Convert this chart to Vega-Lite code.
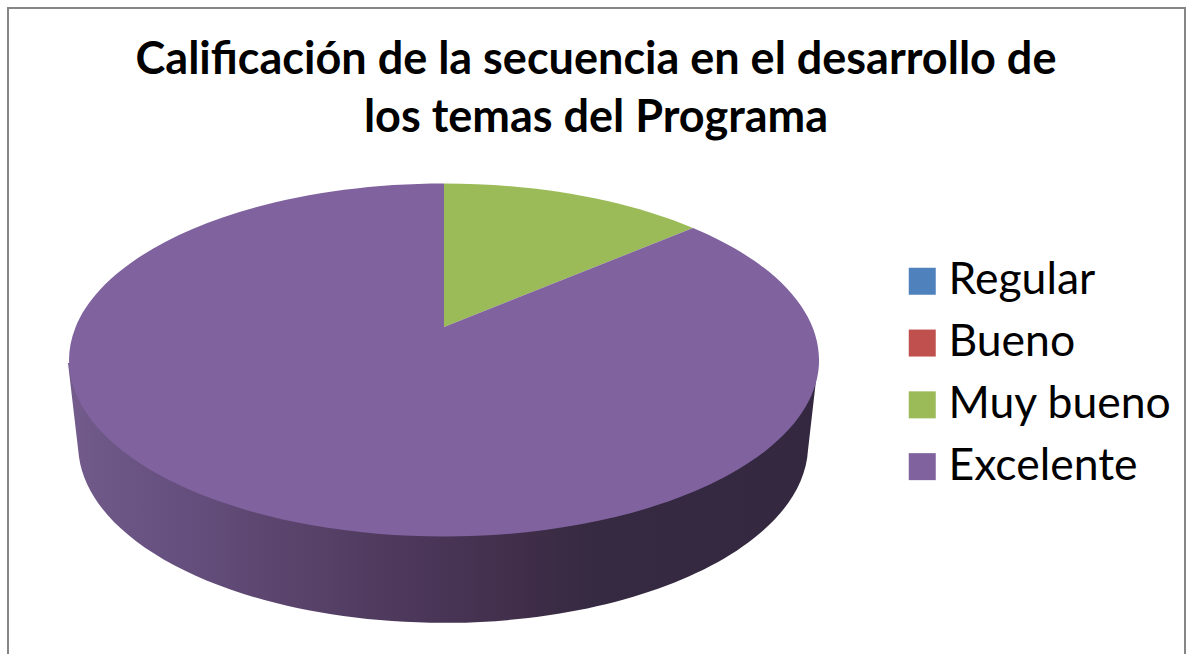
{
  "$schema": "https://vega.github.io/schema/vega-lite/v6.json",
  "width": 1186,
  "height": 654,
  "autosize": "none",
  "padding": 0,
  "background": "white",
  "title": {
    "text": ["Calificación de la secuencia en el desarrollo de", "los temas del Programa"],
    "font": "Lato",
    "fontWeight": "bold",
    "fontSize": 45,
    "lineHeight": 58,
    "color": "#000000",
    "anchor": "middle",
    "frame": "group",
    "dx": 3,
    "baseline": "alphabetic",
    "offset": -177
  },
  "config": {"view": {"stroke": null}},
  "data": {
    "values": [
      {"categoria": "Regular", "valor": 0},
      {"categoria": "Bueno", "valor": 0},
      {"categoria": "Muy bueno", "valor": 12.5},
      {"categoria": "Excelente", "valor": 87.5}
    ]
  },
  "layer": [
    {
      "transform": [{"filter": "datum.categoria === 'Excelente'"}],
      "mark": {
        "type": "point",
        "shape": "M-585,328 L-585,-319 L592,-319 L592,328",
        "size": 4,
        "filled": false,
        "stroke": "#868686",
        "strokeWidth": 2,
        "opacity": 1
      },
      "encoding": {}
    },
    {
      "transform": [{"filter": "datum.categoria === 'Excelente'"}],
      "mark": {
        "type": "point",
        "shape": "M-525,36 L-514,130 A365,178 0 0 0 215,123 L225,36 Z",
        "size": 4,
        "filled": true,
        "strokeWidth": 0,
        "opacity": 1,
        "fill": {
          "gradient": "linear",
          "x1": 0, "y1": 0, "x2": 1, "y2": 0,
          "stops": [
            {"offset": 0, "color": "#755c8e"},
            {"offset": 0.04, "color": "#6d5887"},
            {"offset": 0.14, "color": "#66507f"},
            {"offset": 0.32, "color": "#584269"},
            {"offset": 0.48, "color": "#4a3658"},
            {"offset": 0.62, "color": "#3f2d48"},
            {"offset": 0.7, "color": "#352a41"},
            {"offset": 1, "color": "#332840"}
          ]
        }
      },
      "encoding": {}
    },
    {
      "transform": [{"filter": "datum.valor > 0"}],
      "mark": {"type": "point", "size": 4, "filled": true, "strokeWidth": 0, "opacity": 1},
      "encoding": {
        "color": {
          "field": "categoria",
          "type": "nominal",
          "scale": {
            "domain": ["Regular", "Bueno", "Muy bueno", "Excelente"],
            "range": ["#4f81bd", "#c0504d", "#9bbb59", "#7f629e"]
          },
          "legend": {
            "title": null,
            "orient": "none",
            "legendX": 900,
            "legendY": 259,
            "symbolType": "square",
            "symbolSize": 729,
            "symbolStrokeWidth": 0,
            "symbolOpacity": 1,
            "labelFont": "Lato",
            "labelFontSize": 44.5,
            "labelColor": "#000000",
            "labelOffset": 4,
            "labelLimit": 300,
            "rowPadding": 16.8,
            "padding": 0
          }
        },
        "shape": {
          "field": "categoria",
          "type": "nominal",
          "scale": {
            "domain": ["Muy bueno", "Excelente"],
            "range": [
              "M-149,0 L-149,-143.5 A375,176.5 0 0 1 100,-99 Z",
              "M-149,0 L100,-99 A375,176.5 0 1 1 -149,-143.5 Z"
            ]
          },
          "legend": null
        }
      }
    }
  ]
}
